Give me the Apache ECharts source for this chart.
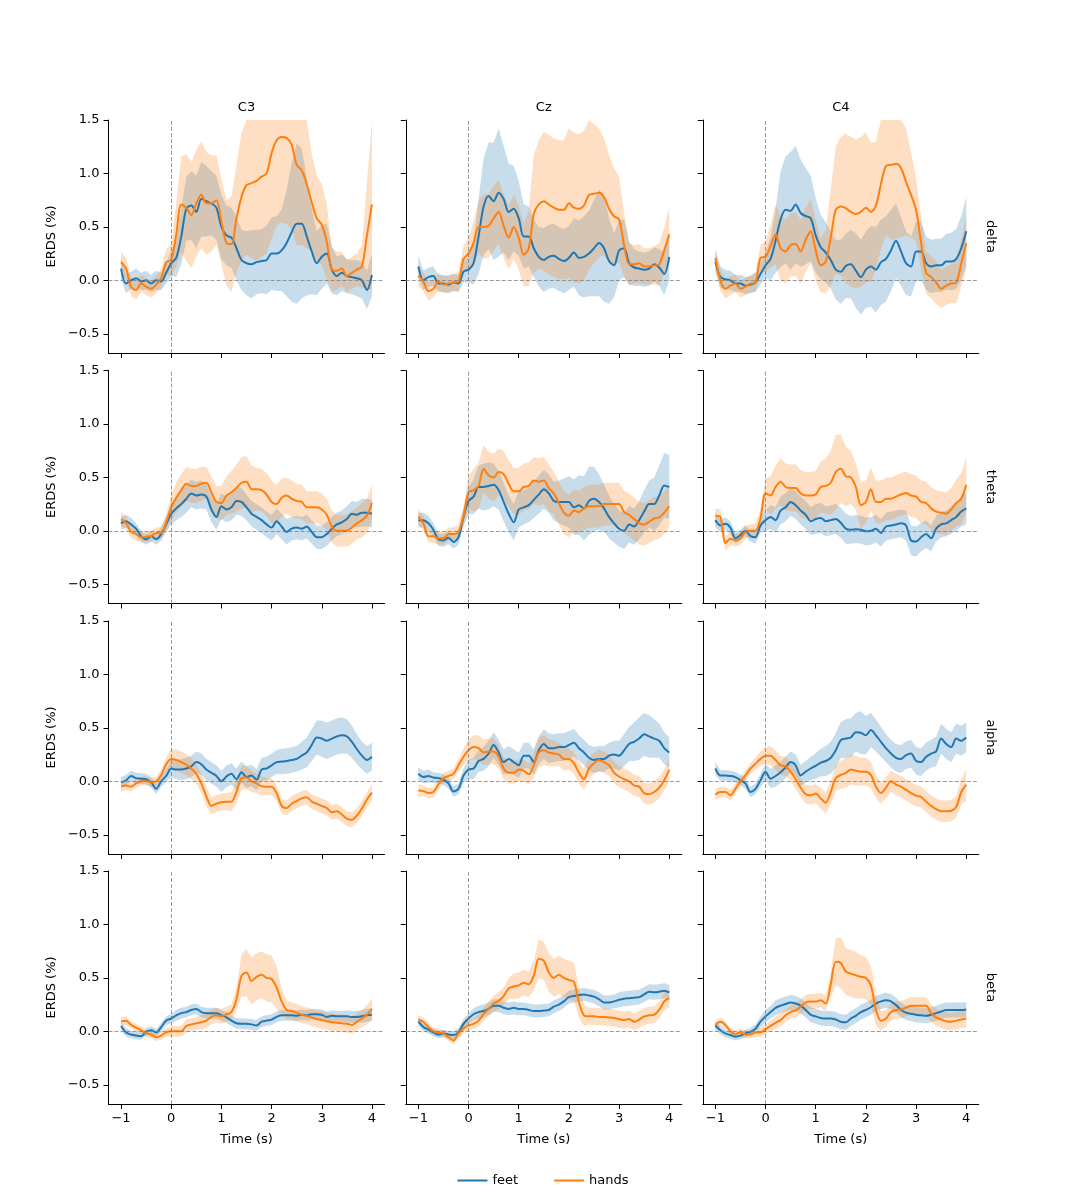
<!DOCTYPE html>
<html><head><meta charset="utf-8">
<script src="https://cdn.jsdelivr.net/npm/echarts@6/dist/echarts.min.js"></script>
<style>html,body{margin:0;padding:0;background:#fff}#c{width:1086px;height:1200px}</style>
</head><body><div id="c"></div>
<script>
const TIME = [-1.0,-0.9,-0.8,-0.7,-0.6,-0.5,-0.4,-0.3,-0.2,-0.1,0.0,0.1,0.2,0.3,0.4,0.5,0.6,0.7,0.8,0.9,1.0,1.1,1.2,1.3,1.4,1.5,1.6,1.7,1.8,1.9,2.0,2.1,2.2,2.3,2.4,2.5,2.6,2.7,2.8,2.9,3.0,3.1,3.2,3.3,3.4,3.5,3.6,3.7,3.8,3.9,4.0];
const CHANNELS = ['C3','Cz','C4'];
const BANDS = ['delta','theta','alpha','beta'];
const CONDITIONS = ['feet','hands'];
const X_TICKS = [-1,0,1,2,3,4];
const Y_TICKS = [-0.5,0,0.5,1,1.5];

// ---- delta ----
const delta_C3_feet = [0.11,-0.03,0.00,0.02,-0.01,0.00,-0.03,0.00,-0.01,0.07, 0.16,0.21,0.41,0.67,0.70,0.64,0.76,0.74,0.72,0.68, 0.50,0.42,0.40,0.30,0.19,0.16,0.15,0.17,0.18,0.19, 0.25,0.25,0.28,0.35,0.45,0.53,0.53,0.41,0.27,0.16, 0.22,0.25,0.10,0.04,0.07,0.04,0.03,0.02,0.00,-0.09, 0.05];
const delta_C3_feet_ci = [0.10,0.09,0.08,0.09,0.08,0.09,0.08,0.09,0.08,0.10, 0.12,0.18,0.26,0.30,0.32,0.34,0.35,0.33,0.30,0.30, 0.30,0.28,0.28,0.30,0.28,0.30,0.32,0.30,0.30,0.32, 0.34,0.35,0.38,0.50,0.65,0.75,0.70,0.55,0.40,0.30, 0.30,0.28,0.22,0.18,0.17,0.16,0.16,0.17,0.17,0.18, 0.20];
const delta_C3_hands = [0.17,0.11,-0.06,-0.09,-0.03,-0.06,-0.08,-0.04,0.02,0.17, 0.19,0.43,0.71,0.68,0.61,0.72,0.80,0.72,0.72,0.75, 0.55,0.35,0.34,0.58,0.78,0.89,0.91,0.93,0.97,1.00, 1.19,1.31,1.34,1.33,1.27,1.08,1.03,0.90,0.73,0.58, 0.52,0.36,0.10,0.09,0.11,0.04,0.07,0.10,0.13,0.42, 0.71];
const delta_C3_hands_ci = [0.10,0.10,0.09,0.09,0.08,0.08,0.08,0.08,0.09,0.12, 0.15,0.30,0.45,0.50,0.50,0.50,0.50,0.48,0.45,0.42, 0.40,0.40,0.45,0.50,0.60,0.65,0.70,0.75,0.75,0.75, 0.80,0.80,0.80,0.80,0.80,0.75,0.70,0.60,0.45,0.40, 0.38,0.35,0.20,0.18,0.16,0.15,0.15,0.15,0.20,0.50, 0.80];
const delta_Cz_feet = [0.13,0.00,0.03,0.04,-0.03,-0.03,-0.04,-0.02,-0.03,0.08, 0.10,0.16,0.41,0.69,0.79,0.74,0.82,0.76,0.64,0.67, 0.58,0.41,0.41,0.30,0.22,0.19,0.22,0.23,0.20,0.18, 0.21,0.26,0.21,0.22,0.25,0.30,0.35,0.30,0.18,0.14, 0.28,0.30,0.16,0.12,0.11,0.10,0.11,0.15,0.12,0.06, 0.22];
const delta_Cz_feet_ci = [0.10,0.09,0.09,0.09,0.08,0.08,0.08,0.08,0.08,0.10, 0.12,0.20,0.35,0.45,0.50,0.55,0.60,0.50,0.45,0.40, 0.35,0.30,0.28,0.27,0.28,0.30,0.30,0.30,0.30,0.30, 0.30,0.32,0.35,0.38,0.40,0.45,0.50,0.50,0.40,0.30, 0.28,0.27,0.20,0.17,0.16,0.16,0.16,0.16,0.17,0.20, 0.22];
const delta_Cz_hands = [0.04,-0.01,-0.10,-0.08,-0.01,-0.04,-0.03,-0.02,-0.01,0.20, 0.25,0.35,0.50,0.50,0.51,0.58,0.64,0.51,0.40,0.50, 0.40,0.24,0.30,0.62,0.71,0.74,0.71,0.68,0.66,0.66, 0.72,0.68,0.67,0.70,0.80,0.81,0.82,0.78,0.67,0.60, 0.57,0.33,0.15,0.15,0.16,0.13,0.13,0.14,0.15,0.28, 0.43];
const delta_Cz_hands_ci = [0.10,0.09,0.09,0.08,0.08,0.08,0.08,0.08,0.09,0.12, 0.15,0.20,0.25,0.30,0.30,0.30,0.30,0.30,0.30,0.30, 0.30,0.30,0.35,0.55,0.60,0.65,0.65,0.65,0.65,0.65, 0.70,0.70,0.70,0.70,0.70,0.65,0.60,0.55,0.50,0.45, 0.40,0.30,0.20,0.18,0.18,0.17,0.17,0.18,0.20,0.22, 0.25];
const delta_C4_feet = [0.175,0.03,0.01,0.00,-0.03,-0.03,-0.05,-0.04,-0.02,0.06, 0.14,0.20,0.37,0.57,0.66,0.65,0.71,0.63,0.60,0.58, 0.42,0.31,0.26,0.19,0.10,0.08,0.135,0.15,0.09,0.03, 0.10,0.13,0.10,0.17,0.20,0.28,0.37,0.27,0.16,0.13, 0.27,0.27,0.16,0.13,0.14,0.14,0.175,0.175,0.20,0.30, 0.46];
const delta_C4_feet_ci = [0.10,0.10,0.09,0.09,0.08,0.08,0.08,0.08,0.09,0.10, 0.12,0.20,0.30,0.45,0.50,0.55,0.55,0.50,0.45,0.40, 0.35,0.30,0.28,0.27,0.28,0.30,0.30,0.32,0.35,0.35, 0.36,0.38,0.40,0.40,0.40,0.38,0.35,0.32,0.30,0.28, 0.28,0.27,0.25,0.25,0.25,0.25,0.26,0.27,0.28,0.30, 0.32];
const delta_C4_hands = [0.21,0.00,-0.08,-0.05,-0.03,-0.08,-0.06,-0.03,-0.02,0.21, 0.22,0.32,0.43,0.30,0.27,0.33,0.34,0.27,0.38,0.46, 0.28,0.14,0.175,0.40,0.66,0.69,0.675,0.64,0.62,0.64, 0.68,0.64,0.70,0.90,1.07,1.08,1.09,1.05,0.92,0.80, 0.66,0.35,0.07,0.03,-0.02,-0.08,-0.05,-0.03,-0.02,0.16, 0.35];
const delta_C4_hands_ci = [0.10,0.10,0.09,0.09,0.08,0.08,0.08,0.08,0.09,0.12, 0.15,0.20,0.28,0.30,0.30,0.30,0.30,0.30,0.30,0.30, 0.28,0.25,0.30,0.45,0.60,0.65,0.70,0.70,0.70,0.70, 0.70,0.65,0.60,0.60,0.65,0.70,0.70,0.65,0.50,0.40, 0.30,0.25,0.20,0.20,0.20,0.18,0.18,0.18,0.20,0.22, 0.25];

// ---- theta ----
const theta_C3_feet = [0.07,0.09,0.06,0.02,-0.05,-0.08,-0.05,-0.08,-0.03,0.06, 0.16,0.21,0.25,0.30,0.35,0.33,0.34,0.32,0.20,0.13, 0.23,0.20,0.22,0.28,0.27,0.22,0.16,0.13,0.10,0.06, 0.03,0.09,0.04,-0.01,0.02,0.03,0.02,0.04,-0.01,-0.06, -0.06,-0.03,0.02,0.06,0.08,0.11,0.16,0.15,0.17,0.17, 0.16];
const theta_C3_feet_ci = [0.06,0.06,0.06,0.05,0.05,0.05,0.05,0.05,0.06,0.07, 0.10,0.11,0.12,0.13,0.13,0.13,0.13,0.12,0.12,0.12, 0.12,0.12,0.12,0.13,0.13,0.12,0.12,0.12,0.12,0.12, 0.12,0.12,0.12,0.12,0.11,0.11,0.11,0.11,0.11,0.11, 0.11,0.11,0.11,0.11,0.11,0.12,0.12,0.12,0.13,0.13, 0.13];
const theta_C3_hands = [0.11,0.07,-0.01,-0.03,-0.06,-0.055,-0.05,-0.02,-0.02,0.08, 0.22,0.31,0.38,0.44,0.42,0.42,0.44,0.45,0.36,0.27, 0.26,0.33,0.36,0.40,0.45,0.46,0.39,0.39,0.38,0.34, 0.27,0.25,0.31,0.33,0.30,0.28,0.27,0.22,0.22,0.22, 0.20,0.15,0.04,0.00,0.00,0.00,0.03,0.07,0.10,0.14, 0.26];
const theta_C3_hands_ci = [0.07,0.06,0.06,0.06,0.05,0.05,0.05,0.05,0.06,0.08, 0.12,0.14,0.15,0.16,0.16,0.16,0.16,0.15,0.15,0.15, 0.16,0.18,0.20,0.22,0.24,0.24,0.22,0.20,0.20,0.20, 0.20,0.18,0.18,0.17,0.17,0.16,0.16,0.15,0.15,0.15, 0.15,0.15,0.15,0.15,0.15,0.15,0.15,0.15,0.16,0.16, 0.17];
const theta_Cz_feet = [0.10,0.10,0.07,0.01,-0.08,-0.09,-0.065,-0.105,-0.06,0.13, 0.28,0.32,0.41,0.41,0.42,0.43,0.38,0.27,0.16,0.08, 0.20,0.22,0.24,0.29,0.34,0.39,0.35,0.28,0.27,0.27, 0.27,0.22,0.24,0.21,0.28,0.30,0.27,0.21,0.13,0.07, 0.02,0.00,0.06,0.04,0.10,0.18,0.25,0.25,0.33,0.425, 0.41];
const theta_Cz_feet_ci = [0.07,0.07,0.07,0.06,0.06,0.06,0.06,0.06,0.07,0.08, 0.13,0.16,0.20,0.22,0.22,0.20,0.18,0.18,0.17,0.17, 0.17,0.16,0.16,0.17,0.18,0.18,0.18,0.18,0.20,0.22, 0.24,0.26,0.28,0.30,0.32,0.30,0.26,0.22,0.20,0.18, 0.17,0.17,0.17,0.17,0.18,0.20,0.22,0.25,0.28,0.30, 0.30];
const theta_Cz_hands = [0.135,0.07,-0.05,-0.05,-0.07,-0.07,-0.03,-0.03,-0.01,0.14, 0.36,0.38,0.42,0.58,0.52,0.50,0.55,0.53,0.44,0.37, 0.37,0.41,0.42,0.47,0.46,0.47,0.40,0.35,0.26,0.17, 0.14,0.19,0.175,0.21,0.23,0.23,0.23,0.25,0.25,0.25, 0.25,0.175,0.15,0.11,0.07,0.06,0.085,0.115,0.125,0.17, 0.23];
const theta_Cz_hands_ci = [0.07,0.07,0.06,0.06,0.06,0.06,0.06,0.06,0.07,0.09, 0.15,0.20,0.22,0.22,0.22,0.22,0.22,0.22,0.22,0.22, 0.22,0.22,0.22,0.22,0.22,0.22,0.22,0.20,0.20,0.20, 0.20,0.20,0.20,0.20,0.20,0.20,0.20,0.20,0.20,0.20, 0.20,0.20,0.20,0.20,0.20,0.20,0.20,0.20,0.20,0.20, 0.20];
const theta_C4_feet = [0.10,0.05,0.065,0.03,-0.07,-0.04,0.00,-0.05,-0.06,0.05, 0.10,0.13,0.10,0.19,0.22,0.27,0.24,0.19,0.15,0.09, 0.11,0.12,0.09,0.10,0.11,0.075,0.02,0.01,0.015,0.01, -0.005,0.00,0.02,-0.02,0.04,0.05,0.06,0.07,0.05,-0.09, -0.10,-0.06,-0.03,-0.07,0.02,0.06,0.07,0.10,0.13,0.18, 0.21];
const theta_C4_feet_ci = [0.07,0.06,0.06,0.06,0.05,0.05,0.05,0.05,0.06,0.07, 0.10,0.11,0.12,0.13,0.13,0.13,0.13,0.13,0.13,0.13, 0.14,0.14,0.14,0.14,0.14,0.14,0.14,0.13,0.13,0.13, 0.13,0.13,0.13,0.13,0.13,0.13,0.13,0.13,0.14,0.14, 0.14,0.13,0.13,0.12,0.12,0.12,0.12,0.13,0.13,0.14, 0.15];
const theta_C4_hands = [0.14,0.13,-0.115,-0.075,-0.09,-0.07,-0.01,0.00,0.00,0.12, 0.35,0.33,0.41,0.46,0.41,0.40,0.40,0.35,0.33,0.33, 0.34,0.41,0.42,0.45,0.55,0.58,0.51,0.50,0.41,0.24, 0.27,0.39,0.27,0.27,0.30,0.30,0.32,0.34,0.355,0.33, 0.32,0.27,0.26,0.21,0.18,0.17,0.16,0.20,0.26,0.30, 0.43];
const theta_C4_hands_ci = [0.07,0.07,0.07,0.06,0.06,0.06,0.06,0.06,0.07,0.09, 0.14,0.18,0.20,0.22,0.22,0.22,0.22,0.22,0.22,0.22, 0.22,0.24,0.26,0.30,0.35,0.32,0.28,0.25,0.22,0.22, 0.20,0.20,0.20,0.20,0.20,0.20,0.20,0.20,0.20,0.20, 0.20,0.20,0.20,0.20,0.20,0.20,0.20,0.20,0.22,0.24, 0.26];

// ---- alpha ----
const alpha_C3_feet = [-0.01,0.01,0.05,0.03,0.025,0.02,-0.01,-0.07,0.00,0.05, 0.12,0.11,0.11,0.12,0.14,0.18,0.16,0.11,0.08,0.05, 0.00,0.045,0.07,0.02,0.085,0.04,0.055,0.015,0.11,0.12, 0.15,0.18,0.185,0.19,0.20,0.21,0.24,0.27,0.34,0.41, 0.40,0.38,0.40,0.42,0.43,0.42,0.37,0.30,0.24,0.20, 0.23];
const alpha_C3_feet_ci = [0.05,0.05,0.05,0.05,0.05,0.05,0.05,0.05,0.05,0.06, 0.08,0.09,0.10,0.10,0.10,0.10,0.10,0.10,0.10,0.10, 0.10,0.10,0.10,0.10,0.10,0.10,0.10,0.10,0.11,0.11, 0.11,0.11,0.12,0.12,0.12,0.12,0.13,0.14,0.15,0.16, 0.17,0.17,0.17,0.17,0.17,0.16,0.15,0.14,0.13,0.13, 0.13];
const alpha_C3_hands = [-0.05,-0.04,-0.05,-0.02,0.00,0.005,-0.01,0.00,0.06,0.16, 0.21,0.20,0.18,0.155,0.12,0.07,-0.02,-0.14,-0.23,-0.21, -0.195,-0.19,-0.19,-0.10,0.03,0.035,0.00,-0.02,-0.045,-0.05, -0.05,-0.11,-0.23,-0.25,-0.21,-0.185,-0.16,-0.15,-0.19,-0.21, -0.23,-0.25,-0.29,-0.28,-0.31,-0.35,-0.36,-0.32,-0.255,-0.17, -0.105];
const alpha_C3_hands_ci = [0.05,0.04,0.04,0.04,0.04,0.04,0.04,0.04,0.05,0.07, 0.09,0.10,0.10,0.10,0.10,0.09,0.09,0.09,0.08,0.08, 0.08,0.08,0.09,0.10,0.11,0.11,0.10,0.09,0.09,0.08, 0.08,0.07,0.07,0.07,0.07,0.07,0.07,0.07,0.07,0.07, 0.07,0.07,0.07,0.07,0.07,0.07,0.07,0.07,0.07,0.07, 0.08];
const alpha_Cz_feet = [0.07,0.04,0.05,0.035,0.03,0.015,-0.02,-0.095,-0.07,0.055, 0.11,0.12,0.19,0.21,0.26,0.34,0.27,0.18,0.21,0.18, 0.15,0.24,0.24,0.18,0.29,0.35,0.31,0.31,0.32,0.32, 0.34,0.36,0.31,0.27,0.22,0.20,0.21,0.21,0.24,0.25, 0.24,0.29,0.35,0.37,0.40,0.44,0.42,0.40,0.38,0.31, 0.27];
const alpha_Cz_feet_ci = [0.06,0.06,0.06,0.05,0.05,0.05,0.05,0.05,0.05,0.07, 0.09,0.10,0.10,0.11,0.12,0.12,0.12,0.12,0.12,0.12, 0.12,0.12,0.12,0.12,0.13,0.14,0.14,0.13,0.13,0.13, 0.13,0.13,0.12,0.12,0.12,0.12,0.12,0.12,0.12,0.13, 0.14,0.15,0.16,0.18,0.20,0.20,0.20,0.18,0.16,0.15, 0.14];
const alpha_Cz_hands = [-0.085,-0.09,-0.11,-0.10,-0.03,0.03,0.05,0.07,0.15,0.23, 0.29,0.32,0.31,0.27,0.28,0.28,0.23,0.12,0.08,0.08, 0.11,0.10,0.065,0.15,0.27,0.29,0.27,0.26,0.25,0.21, 0.21,0.17,0.08,0.02,0.12,0.17,0.20,0.18,0.15,0.08, 0.045,0.02,0.00,-0.04,-0.05,-0.11,-0.12,-0.10,-0.06,0.01, 0.11];
const alpha_Cz_hands_ci = [0.06,0.05,0.05,0.05,0.05,0.05,0.05,0.05,0.06,0.08, 0.10,0.11,0.12,0.12,0.12,0.12,0.11,0.10,0.10,0.10, 0.10,0.10,0.10,0.12,0.14,0.14,0.13,0.12,0.11,0.11, 0.10,0.10,0.10,0.10,0.10,0.10,0.10,0.10,0.10,0.10, 0.10,0.10,0.10,0.10,0.10,0.10,0.10,0.10,0.10,0.10, 0.10];
const alpha_C4_feet = [0.12,0.055,0.055,0.05,0.04,0.01,-0.02,-0.10,-0.07,0.01, 0.09,0.025,0.05,0.085,0.13,0.18,0.15,0.055,0.09,0.12, 0.145,0.175,0.19,0.22,0.29,0.385,0.40,0.41,0.46,0.455, 0.43,0.48,0.43,0.37,0.31,0.26,0.22,0.21,0.245,0.26, 0.19,0.18,0.23,0.26,0.28,0.40,0.35,0.32,0.40,0.38, 0.41];
const alpha_C4_feet_ci = [0.06,0.05,0.05,0.05,0.05,0.05,0.05,0.05,0.05,0.06, 0.08,0.09,0.10,0.10,0.10,0.10,0.10,0.10,0.10,0.11, 0.12,0.13,0.14,0.15,0.16,0.17,0.18,0.18,0.18,0.20, 0.18,0.16,0.15,0.14,0.13,0.13,0.13,0.13,0.13,0.13, 0.13,0.13,0.13,0.13,0.14,0.14,0.14,0.14,0.14,0.14, 0.14];
const alpha_C4_hands = [-0.125,-0.10,-0.10,-0.13,-0.07,0.00,0.055,0.12,0.165,0.21, 0.24,0.24,0.20,0.15,0.14,0.09,0.02,-0.06,-0.12,-0.13, -0.115,-0.16,-0.20,-0.10,0.03,0.06,0.08,0.11,0.10,0.09, 0.09,0.06,-0.05,-0.11,-0.06,0.00,-0.03,-0.05,-0.08,-0.11, -0.135,-0.145,-0.19,-0.23,-0.26,-0.28,-0.28,-0.275,-0.24,-0.10, -0.03];
const alpha_C4_hands_ci = [0.05,0.05,0.05,0.05,0.05,0.05,0.05,0.05,0.06,0.07, 0.08,0.09,0.09,0.09,0.09,0.09,0.09,0.09,0.09,0.09, 0.09,0.10,0.10,0.11,0.12,0.13,0.14,0.14,0.14,0.13, 0.13,0.12,0.11,0.10,0.10,0.10,0.10,0.10,0.10,0.10, 0.10,0.10,0.10,0.10,0.10,0.10,0.10,0.10,0.10,0.12, 0.15];

// ---- beta ----
const beta_C3_feet = [0.05,-0.01,-0.03,-0.04,-0.045,-0.005,0.01,-0.01,0.04,0.10, 0.12,0.15,0.17,0.18,0.20,0.21,0.18,0.17,0.17,0.17, 0.15,0.13,0.10,0.075,0.07,0.07,0.065,0.055,0.09,0.10, 0.11,0.135,0.15,0.15,0.15,0.145,0.155,0.15,0.16,0.16, 0.155,0.135,0.145,0.14,0.14,0.14,0.135,0.135,0.14,0.15, 0.155];
const beta_C3_feet_ci = [0.04,0.04,0.035,0.035,0.035,0.035,0.035,0.035,0.04,0.04, 0.045,0.05,0.05,0.05,0.05,0.05,0.05,0.05,0.05,0.05, 0.05,0.05,0.05,0.05,0.05,0.05,0.05,0.05,0.05,0.05, 0.05,0.05,0.05,0.05,0.05,0.05,0.05,0.05,0.05,0.05, 0.05,0.05,0.05,0.05,0.05,0.055,0.055,0.055,0.06,0.06, 0.06];
const beta_C3_hands = [0.095,0.10,0.06,0.035,0.01,-0.02,-0.03,-0.055,-0.04,-0.01, 0.00,0.00,0.00,0.05,0.065,0.075,0.085,0.10,0.135,0.15, 0.14,0.16,0.18,0.30,0.52,0.55,0.47,0.51,0.53,0.50, 0.49,0.41,0.28,0.20,0.19,0.175,0.155,0.145,0.13,0.115, 0.105,0.095,0.085,0.08,0.075,0.07,0.06,0.09,0.12,0.155, 0.21];
const beta_C3_hands_ci = [0.04,0.04,0.035,0.035,0.035,0.035,0.035,0.035,0.04,0.04, 0.05,0.05,0.05,0.06,0.06,0.06,0.07,0.07,0.07,0.07, 0.07,0.07,0.07,0.10,0.20,0.22,0.22,0.22,0.22,0.22, 0.22,0.20,0.12,0.09,0.08,0.08,0.08,0.08,0.08,0.08, 0.08,0.08,0.08,0.08,0.08,0.08,0.08,0.08,0.08,0.09, 0.10];
const beta_Cz_feet = [0.09,0.04,0.015,-0.01,-0.03,-0.02,-0.03,-0.035,-0.01,0.07, 0.12,0.16,0.18,0.19,0.21,0.24,0.24,0.22,0.21,0.22, 0.21,0.21,0.20,0.19,0.19,0.195,0.20,0.23,0.25,0.28, 0.32,0.33,0.34,0.345,0.335,0.325,0.30,0.27,0.27,0.28, 0.295,0.305,0.31,0.315,0.32,0.345,0.37,0.365,0.37,0.38, 0.365];
const beta_Cz_feet_ci = [0.04,0.04,0.035,0.035,0.035,0.035,0.035,0.035,0.04,0.045, 0.05,0.055,0.06,0.06,0.06,0.06,0.06,0.06,0.06,0.06, 0.06,0.06,0.06,0.06,0.06,0.06,0.06,0.06,0.06,0.06, 0.06,0.06,0.06,0.06,0.06,0.065,0.065,0.065,0.065,0.065, 0.07,0.07,0.07,0.07,0.07,0.07,0.07,0.07,0.07,0.07, 0.07];
const beta_Cz_hands = [0.11,0.09,0.04,0.00,-0.01,-0.02,-0.055,-0.085,-0.02,0.025, 0.055,0.07,0.10,0.16,0.21,0.26,0.285,0.33,0.40,0.42, 0.43,0.455,0.44,0.52,0.68,0.66,0.55,0.50,0.53,0.50, 0.48,0.465,0.27,0.15,0.14,0.14,0.135,0.135,0.13,0.125, 0.115,0.105,0.115,0.09,0.11,0.14,0.15,0.155,0.20,0.28, 0.31];
const beta_Cz_hands_ci = [0.04,0.04,0.035,0.035,0.035,0.035,0.035,0.035,0.04,0.045, 0.05,0.05,0.06,0.06,0.07,0.07,0.08,0.08,0.10,0.12, 0.12,0.12,0.12,0.14,0.18,0.18,0.18,0.18,0.18,0.18, 0.18,0.18,0.14,0.10,0.08,0.08,0.08,0.08,0.08,0.08, 0.08,0.08,0.08,0.08,0.08,0.08,0.08,0.08,0.08,0.08, 0.09];
const beta_C4_feet = [0.055,0.01,-0.02,-0.035,-0.05,-0.04,-0.02,-0.005,0.025,0.09, 0.14,0.18,0.22,0.24,0.255,0.27,0.26,0.24,0.20,0.155, 0.14,0.125,0.12,0.12,0.11,0.09,0.085,0.12,0.145,0.18, 0.20,0.225,0.26,0.28,0.29,0.28,0.245,0.20,0.175,0.165, 0.155,0.15,0.145,0.155,0.17,0.185,0.20,0.20,0.20,0.20, 0.205];
const beta_C4_feet_ci = [0.04,0.04,0.035,0.035,0.035,0.035,0.035,0.035,0.04,0.05, 0.06,0.06,0.07,0.07,0.07,0.07,0.07,0.07,0.07,0.07, 0.07,0.07,0.07,0.07,0.07,0.07,0.07,0.07,0.07,0.07, 0.07,0.07,0.07,0.07,0.07,0.07,0.07,0.07,0.07,0.07, 0.07,0.07,0.07,0.07,0.07,0.07,0.07,0.07,0.07,0.07, 0.07];
const beta_C4_hands = [0.06,0.09,0.06,0.00,-0.025,-0.01,-0.03,-0.03,-0.01,-0.01, 0.02,0.05,0.08,0.105,0.15,0.18,0.195,0.23,0.27,0.28, 0.28,0.29,0.26,0.44,0.65,0.64,0.56,0.54,0.525,0.51, 0.50,0.43,0.20,0.10,0.12,0.18,0.20,0.205,0.22,0.24, 0.24,0.24,0.24,0.17,0.13,0.11,0.095,0.09,0.10,0.11, 0.12];
const beta_C4_hands_ci = [0.04,0.04,0.035,0.035,0.035,0.035,0.035,0.035,0.04,0.04, 0.05,0.05,0.06,0.06,0.06,0.06,0.07,0.07,0.07,0.07, 0.07,0.07,0.07,0.12,0.22,0.24,0.22,0.22,0.22,0.20, 0.20,0.18,0.15,0.09,0.08,0.08,0.08,0.08,0.08,0.08, 0.08,0.08,0.08,0.08,0.08,0.08,0.08,0.08,0.08,0.08, 0.09];

// panel table: rows = BANDS, cols = CHANNELS; each [feet, feet_ci, hands, hands_ci]
const PANELS = [
  [[delta_C3_feet,delta_C3_feet_ci,delta_C3_hands,delta_C3_hands_ci],[delta_Cz_feet,delta_Cz_feet_ci,delta_Cz_hands,delta_Cz_hands_ci],[delta_C4_feet,delta_C4_feet_ci,delta_C4_hands,delta_C4_hands_ci]],
  [[theta_C3_feet,theta_C3_feet_ci,theta_C3_hands,theta_C3_hands_ci],[theta_Cz_feet,theta_Cz_feet_ci,theta_Cz_hands,theta_Cz_hands_ci],[theta_C4_feet,theta_C4_feet_ci,theta_C4_hands,theta_C4_hands_ci]],
  [[alpha_C3_feet,alpha_C3_feet_ci,alpha_C3_hands,alpha_C3_hands_ci],[alpha_Cz_feet,alpha_Cz_feet_ci,alpha_Cz_hands,alpha_Cz_hands_ci],[alpha_C4_feet,alpha_C4_feet_ci,alpha_C4_hands,alpha_C4_hands_ci]],
  [[beta_C3_feet,beta_C3_feet_ci,beta_C3_hands,beta_C3_hands_ci],[beta_Cz_feet,beta_Cz_feet_ci,beta_Cz_hands,beta_Cz_hands_ci],[beta_C4_feet,beta_C4_feet_ci,beta_C4_hands,beta_C4_hands_ci]]
];

const COLORS = {feet: '#1f77b4', hands: '#ff7f0e'};
const BAND_FILL = {feet: 'rgba(31,119,180,0.25)', hands: 'rgba(255,127,14,0.25)'};
const X_MIN = -1.25, X_MAX = 4.25, Y_MIN = -0.68, Y_MAX = 1.5;
const GRID_LEFT = [108.5, 405.8, 702.8], GRID_W = 276;
const GRID_TOP = [120, 370.5, 621, 871], GRID_H = 233;
const FONT = '"DejaVu Sans", "Liberation Sans", sans-serif';

const minus = v => (v < 0 ? '\u2212' : '');

function bandRenderer(mean, ci, fill) {
  return function (params, api) {
    const pts = [];
    for (let j = 0; j < TIME.length; j++) pts.push(api.coord([TIME[j], Math.min(Y_MAX, mean[j] + ci[j])]));
    for (let j = TIME.length - 1; j >= 0; j--) pts.push(api.coord([TIME[j], Math.max(Y_MIN, mean[j] - ci[j])]));
    return { type: 'polygon', shape: { points: pts }, style: { fill: fill } };
  };
}

const grids = [], xAxes = [], yAxes = [], series = [];
BANDS.forEach((band, r) => {
  CHANNELS.forEach((ch, c) => {
    const i = grids.length;
    grids.push({ left: GRID_LEFT[c], top: GRID_TOP[r], width: GRID_W, height: GRID_H, containLabel: false });
    xAxes.push({
      type: 'value', gridIndex: i, min: X_MIN, max: X_MAX,
      splitLine: { show: false },
      axisLine: { show: true, onZero: false, lineStyle: { color: '#000', width: 1 } },
      axisTick: { show: true, length: 5, customValues: X_TICKS, lineStyle: { color: '#000', width: 1 } },
      axisLabel: { show: r === BANDS.length - 1, customValues: X_TICKS, margin: 8, color: '#000', fontSize: 13, fontFamily: FONT,
        formatter: v => minus(v) + Math.abs(v).toFixed(0) }
    });
    yAxes.push({
      type: 'value', gridIndex: i, min: Y_MIN, max: Y_MAX,
      splitLine: { show: false },
      axisLine: { show: true, onZero: false, lineStyle: { color: '#000', width: 1 } },
      axisTick: { show: true, length: 5, customValues: Y_TICKS, lineStyle: { color: '#000', width: 1 } },
      axisLabel: { show: c === 0, customValues: Y_TICKS, margin: 9, color: '#000', fontSize: 13, fontFamily: FONT,
        formatter: v => minus(v) + Math.abs(v).toFixed(1) }
    });
    const [feet, feetCi, hands, handsCi] = PANELS[r][c];
    series.push({ type: 'custom', name: 'feet band', xAxisIndex: i, yAxisIndex: i, silent: true, z: 1, clip: true,
      data: [[TIME[0], 0]], renderItem: bandRenderer(feet, feetCi, BAND_FILL.feet) });
    series.push({ type: 'custom', name: 'hands band', xAxisIndex: i, yAxisIndex: i, silent: true, z: 1, clip: true,
      data: [[TIME[0], 0]], renderItem: bandRenderer(hands, handsCi, BAND_FILL.hands) });
    series.push({ type: 'line', name: 'feet', xAxisIndex: i, yAxisIndex: i, z: 3, symbol: 'none', showSymbol: false, smooth: 0.3,
      clip: true, data: TIME.map((t, j) => [t, feet[j]]), lineStyle: { color: COLORS.feet, width: 2 }, itemStyle: { color: COLORS.feet },
      markLine: { silent: true, symbol: ['none', 'none'], label: { show: false }, animation: false,
        lineStyle: { type: [4, 2], color: '#7f7f7f', width: 0.8 }, data: [{ yAxis: 0 }, { xAxis: 0 }] } });
    series.push({ type: 'line', name: 'hands', xAxisIndex: i, yAxisIndex: i, z: 4, symbol: 'none', showSymbol: false, smooth: 0.3,
      clip: true, data: TIME.map((t, j) => [t, hands[j]]), lineStyle: { color: COLORS.hands, width: 2 }, itemStyle: { color: COLORS.hands } });
  });
});

const graphics = [];
const txt = (x, y, s, rot) => ({ type: 'text', x: x, y: y, rotation: rot || 0,
  style: { text: s, fill: '#000', font: '13px ' + FONT, align: 'center', verticalAlign: 'middle' } });
CHANNELS.forEach((ch, c) => {
  graphics.push(txt(GRID_LEFT[c] + GRID_W / 2, 108, ch));
  graphics.push(txt(GRID_LEFT[c] + GRID_W / 2, 1140, 'Time (s)'));
});
BANDS.forEach((b, r) => {
  graphics.push(txt(990, GRID_TOP[r] + GRID_H / 2, b, -Math.PI / 2));
  graphics.push(txt(52, GRID_TOP[r] + GRID_H / 2, 'ERDS (%)', Math.PI / 2));
});

const chart = echarts.init(document.getElementById('c'), null, { renderer: 'canvas' });
chart.setOption({
  animation: false,
  backgroundColor: '#fff',
  grid: grids, xAxis: xAxes, yAxis: yAxes, series: series,
  graphic: graphics,
  legend: { data: CONDITIONS.map(n => ({ name: n, icon: 'rect' })), left: 'center', top: 1169,
    itemWidth: 30, itemHeight: 2, itemGap: 36,
    textStyle: { color: '#000', fontSize: 13, fontFamily: FONT } }
});
</script></body></html>
